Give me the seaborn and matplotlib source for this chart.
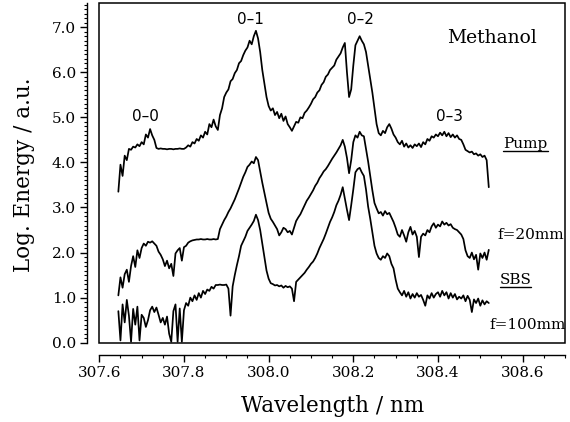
import numpy as np
import pandas as pd
import matplotlib
matplotlib.use("Agg")
import matplotlib.pyplot as plt
from matplotlib.patches import Rectangle
from matplotlib.lines import Line2D
from matplotlib.ticker import MultipleLocator
import seaborn as sns

# ---------------- data ----------------
wl_start, wl_step, n_pts = 307.645, 0.005, 176
wavelength = np.round(wl_start + wl_step * np.arange(n_pts), 3)

pump = [
    3.35, 3.95, 3.70, 4.15, 4.05, 4.30, 4.28, 4.35, 4.33, 4.40,
    4.36, 4.45, 4.40, 4.62, 4.55, 4.74, 4.60, 4.50, 4.32, 4.30,
    4.31, 4.30, 4.30, 4.29, 4.30, 4.30, 4.29, 4.30, 4.30, 4.31,
    4.30, 4.30, 4.33, 4.38, 4.35, 4.45, 4.42, 4.52, 4.48, 4.60,
    4.55, 4.68, 4.62, 4.85, 4.78, 4.95, 4.80, 4.72, 5.05, 5.20,
    5.45, 5.55, 5.62, 5.80, 5.85, 5.98, 6.05, 6.20, 6.25, 6.38,
    6.48, 6.55, 6.70, 6.62, 6.80, 6.92, 6.75, 6.45, 6.05, 5.75,
    5.45, 5.25, 5.15, 5.20, 5.05, 5.12, 4.98, 5.08, 4.92, 5.02,
    4.85, 4.78, 4.70, 4.80, 4.90, 4.88, 5.00, 4.98, 5.10, 5.15,
    5.22, 5.30, 5.40, 5.45, 5.55, 5.60, 5.72, 5.78, 5.90, 5.95,
    6.05, 6.10, 6.15, 6.28, 6.35, 6.42, 6.55, 6.65, 6.00, 5.45,
    5.62, 6.15, 6.60, 6.70, 6.80, 6.70, 6.62, 6.45, 6.15, 5.85,
    5.55, 5.20, 4.85, 4.65, 4.60, 4.70, 4.65, 4.78, 4.85, 4.75,
    4.62, 4.55, 4.45, 4.40, 4.48, 4.35, 4.42, 4.33, 4.38, 4.32,
    4.40, 4.36, 4.42, 4.34, 4.45, 4.40, 4.52, 4.48, 4.58, 4.55,
    4.62, 4.58, 4.66, 4.60, 4.68, 4.58, 4.65, 4.56, 4.62, 4.55,
    4.60, 4.52, 4.50, 4.40, 4.28, 4.25, 4.22, 4.24, 4.18, 4.20,
    4.15, 4.18, 4.12, 4.15, 4.05, 3.45,
]

sbs_f20 = [
    1.05, 1.45, 1.22, 1.52, 1.62, 1.35, 1.70, 1.92, 1.68, 2.05,
    1.88, 2.10, 2.20, 2.15, 2.24, 2.22, 2.25, 2.20, 2.15, 2.02,
    1.95, 1.85, 1.70, 1.82, 1.65, 1.75, 1.48, 1.98, 2.05, 2.10,
    1.82, 2.12, 2.15, 2.22, 2.25, 2.27, 2.28, 2.29, 2.29, 2.30,
    2.29, 2.29, 2.30, 2.29, 2.29, 2.30, 2.29, 2.30, 2.52, 2.62,
    2.72, 2.80, 2.90, 2.98, 3.08, 3.18, 3.30, 3.42, 3.55, 3.68,
    3.78, 3.90, 3.95, 4.02, 3.98, 4.12, 4.05, 3.80, 3.55, 3.32,
    3.10, 2.88, 2.75, 2.68, 2.60, 2.52, 2.38, 2.45, 2.55, 2.52,
    2.45, 2.48, 2.40, 2.55, 2.70, 2.78, 2.85, 2.95, 3.05, 3.15,
    3.22, 3.30, 3.38, 3.48, 3.55, 3.65, 3.72, 3.80, 3.85, 3.92,
    4.00, 4.08, 4.15, 4.22, 4.30, 4.38, 4.50, 4.35, 4.10, 3.76,
    4.05, 4.45, 4.60, 4.55, 4.68, 4.60, 4.58, 4.30, 4.02, 3.70,
    3.38, 3.10, 2.98, 2.87, 2.90, 2.82, 2.92, 2.85, 2.88, 2.78,
    2.68, 2.55, 2.40, 2.35, 2.50, 2.38, 2.24, 2.45, 2.57, 2.40,
    2.48, 2.35, 1.90, 2.35, 2.42, 2.38, 2.50, 2.45, 2.58, 2.65,
    2.55, 2.62, 2.58, 2.69, 2.62, 2.66, 2.60, 2.63, 2.55, 2.52,
    2.50, 2.45, 2.40, 2.30, 2.05, 1.92, 1.88, 2.00, 1.85, 1.95,
    1.62, 1.98, 1.88, 2.00, 1.84, 2.06,
]

sbs_f100 = [
    0.70, 0.05, 0.85, 0.45, 0.95, 0.60, 0.02, 0.75, 0.40, 0.80,
    0.05, 0.62, 0.55, 0.35, 0.50, 0.72, 0.80, 0.68, 0.78, 0.62,
    0.45, 0.55, 0.40, 0.58, 0.20, 0.02, 0.70, 0.85, 0.02, 0.76,
    0.02, 0.72, 0.88, 0.82, 1.00, 0.92, 1.05, 0.95, 1.10, 1.00,
    1.15, 1.08, 1.18, 1.15, 1.24, 1.20, 1.28, 1.28, 1.29, 1.28,
    1.28, 1.29, 1.20, 0.60, 1.25, 1.50, 1.72, 1.92, 2.15, 2.25,
    2.35, 2.48, 2.55, 2.62, 2.70, 2.84, 2.72, 2.50, 2.20, 1.90,
    1.60, 1.42, 1.32, 1.30, 1.27, 1.28, 1.25, 1.27, 1.22, 1.26,
    1.23, 1.25, 1.20, 0.92, 1.35, 1.40, 1.45, 1.50, 1.55, 1.62,
    1.68, 1.75, 1.80, 1.88, 1.98, 2.10, 2.20, 2.30, 2.42, 2.55,
    2.68, 2.78, 2.90, 3.05, 3.15, 3.28, 3.45, 3.20, 2.95, 2.72,
    3.05, 3.40, 3.78, 3.85, 3.88, 3.78, 3.70, 3.40, 3.02, 2.75,
    2.45, 2.15, 1.98, 1.88, 1.84, 1.92, 1.88, 1.98, 1.92, 1.75,
    1.65, 1.40, 1.20, 1.12, 1.05, 1.15, 1.02, 1.12, 0.98, 1.08,
    1.00, 1.10, 1.02, 1.06, 0.95, 0.82, 1.05, 0.98, 1.10, 1.00,
    1.08, 1.12, 1.02, 1.15, 1.05, 1.12, 0.98, 1.10, 1.00, 1.08,
    0.96, 1.02, 0.98, 1.05, 0.92, 1.04, 0.95, 0.68, 0.96, 0.88,
    0.98, 0.82, 0.94, 0.85, 0.92, 0.88,
]

band_labels = ["0\u20130", "0\u20131", "0\u20132", "0\u20133"]
band_x = [307.708, 307.956, 308.216, 308.428]
band_y = [5.02, 7.18, 7.18, 5.02]

trace_names = ["Pump", "f=20mm", "f=100mm"]

# ---------------- style ----------------
sns.set_style("ticks")
plt.rcParams["font.family"] = ["DejaVu Serif"]
plt.rcParams["axes.linewidth"] = 1.0
plt.rcParams["xtick.major.width"] = 1.0
plt.rcParams["ytick.major.width"] = 1.0
plt.rcParams["xtick.minor.width"] = 0.8
plt.rcParams["ytick.minor.width"] = 0.8

fig = plt.figure(figsize=(5.7, 4.22), dpi=100)
ax = fig.add_axes([0.1742, 0.1879, 0.8170, 0.8043])

df = pd.DataFrame({
    "wavelength": np.concatenate([wavelength] * 3),
    "energy": np.concatenate([pump, sbs_f20, sbs_f100]),
    "trace": np.repeat(trace_names, n_pts),
})
sns.lineplot(data=df, x="wavelength", y="energy", units="trace",
             estimator=None, sort=False, color="black", lw=1.25, ax=ax)

ax.set_xlim(307.6, 308.7)
ax.set_ylim(0.0, 7.53)

ax.xaxis.set_major_locator(MultipleLocator(0.2))
ax.xaxis.set_minor_locator(MultipleLocator(0.05))
ax.yaxis.set_major_locator(MultipleLocator(1.0))
ax.yaxis.set_minor_locator(MultipleLocator(0.1))
ax.xaxis.set_major_formatter(plt.FormatStrFormatter("%.1f"))
ax.yaxis.set_major_formatter(plt.FormatStrFormatter("%.1f"))

ax.tick_params(axis="both", which="major", direction="out", length=5,
               labelsize=11, pad=3, color="black", labelcolor="black")
ax.tick_params(axis="both", which="minor", direction="out", length=2.5,
               color="black")

for s in ["top", "right"]:
    ax.spines[s].set_visible(False)
for s in ["left", "bottom"]:
    ax.spines[s].set_position(("outward", 8.6))
    ax.spines[s].set_color("black")

# closed frame around the data area
ax.add_patch(Rectangle((0, 0), 1, 1, transform=ax.transAxes, fill=False,
                       lw=1.1, edgecolor="black", clip_on=False))

ax.set_xlabel("Wavelength / nm", fontsize=15.5, color="black")
ax.set_ylabel("Log. Energy / a.u.", fontsize=15.5, color="black")
ax.xaxis.set_label_coords(0.5, -0.155)
ax.xaxis.label.set_va("top")
ax.yaxis.set_label_coords(-0.162, 0.494)
ax.yaxis.label.set_va("center")

for lab, bx, by in zip(band_labels, band_x, band_y):
    ax.text(bx, by, lab, ha="center", va="center", fontsize=11,
            family="DejaVu Sans", color="black")

ax.text(308.527, 6.76, "Methanol", ha="center", va="center", fontsize=13.5,
        color="black")
t_pump = ax.text(308.607, 4.41, "Pump", ha="center", va="center",
                 fontsize=11, color="black")
ax.text(308.619, 2.39, "f=20mm", ha="center", va="center", fontsize=11,
        color="black")
t_sbs = ax.text(308.583, 1.40, "SBS", ha="center", va="center",
                fontsize=11, color="black")
ax.text(308.611, 0.39, "f=100mm", ha="center", va="center", fontsize=11,
        color="black")

# underline "Pump" and "SBS"
fig.canvas.draw()
renderer = fig.canvas.get_renderer()
for t in (t_pump, t_sbs):
    bb = t.get_window_extent(renderer)
    y_ul = bb.y0 - 0.5
    fig.add_artist(Line2D([bb.x0, bb.x1], [y_ul, y_ul], transform=None,
                          color="black", lw=1.0))

fig.savefig("out.png", dpi=100, facecolor="white")
